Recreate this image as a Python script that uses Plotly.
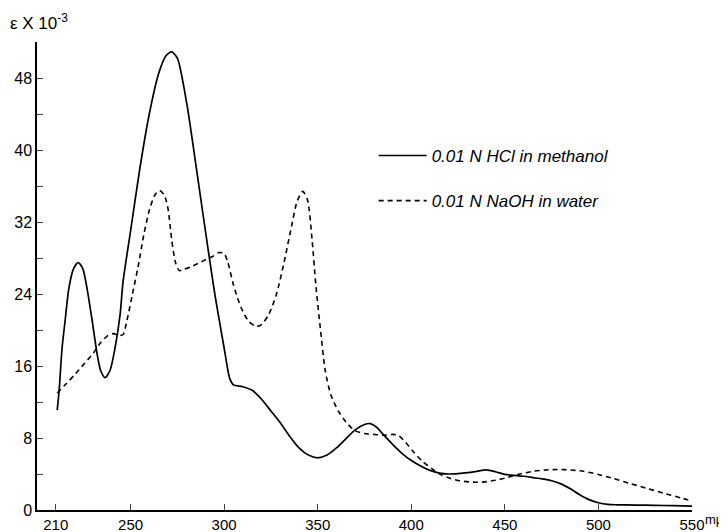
import plotly.graph_objects as go

# Wavelength (mμ) and ε×10^-3 values
hcl_wl = [210.8, 211.8, 213.4, 215, 217, 219.5, 222, 224.5, 227, 229.5, 232, 234, 236.4,
          239, 241.7, 244.4, 246, 250, 255, 260, 265, 269, 272, 275, 280, 285, 290, 295,
          300, 303, 305, 310, 315, 320, 325, 330, 335, 340, 345, 350, 355, 360, 365, 370,
          375, 378, 382, 385, 390, 395, 400, 405, 410, 415, 420, 425, 430, 435, 440, 445,
          450, 455, 460, 465, 470, 475, 480, 485, 490, 495, 500, 505, 510, 520, 530, 540, 550]
hcl_eps = [11.1, 13.2, 18.0, 21.0, 24.6, 26.8, 27.5, 26.8, 24.3, 21.0, 17.5, 15.5, 14.7,
           15.5, 18.0, 21.7, 25.4, 31.0, 38.0, 44.0, 48.5, 50.5, 50.9, 50.2, 45.2, 38.2, 31.0, 24.0,
           18.0, 14.6, 13.9, 13.7, 13.3, 12.3, 11.0, 9.7, 8.2, 6.9, 6.1, 5.8, 6.1, 6.9, 7.9, 8.9,
           9.5, 9.6, 9.1, 8.4, 7.3, 6.3, 5.5, 4.9, 4.4, 4.1, 4.0, 4.05, 4.15, 4.3, 4.45, 4.25,
           3.95, 3.85, 3.75, 3.6, 3.45, 3.25, 2.9, 2.35, 1.7, 1.15, 0.8, 0.62, 0.58, 0.55, 0.52, 0.48, 0.44]

naoh_wl = [210.8, 215, 220, 225, 230, 234, 238, 241, 243.5, 246, 248, 251, 254, 257, 260, 263,
           265.5, 268, 270, 272, 274, 276, 278, 282, 286, 290, 294, 297, 300, 302, 305, 309,
           313, 317, 320, 324, 328, 332, 336, 339, 342, 344.5, 347, 349, 351.5, 354, 357, 361,
           365, 370, 375, 380, 385, 390, 393, 397, 401, 406, 411, 416, 421, 426, 432, 438, 445,
           451, 458, 465, 472, 478, 485, 492, 500, 508, 516, 526, 536, 544, 550]
naoh_eps = [13.0, 13.9, 15.0, 16.2, 17.4, 18.6, 19.4, 19.6, 19.4, 19.5, 21.0, 24.0, 27.0, 30.5,
            33.3, 35.0, 35.5, 35.0, 33.5, 30.0, 27.5, 26.6, 26.7, 27.0, 27.4, 27.8, 28.2, 28.6,
            28.5, 27.5, 25.0, 22.5, 21.0, 20.4, 20.6, 21.8, 24.0, 27.5, 31.5, 34.3, 35.4, 34.5,
            30.0, 25.0, 20.0, 15.5, 12.8, 11.0, 9.8, 8.8, 8.5, 8.4, 8.3, 8.4, 8.3, 7.5, 6.5, 5.4,
            4.6, 3.9, 3.5, 3.25, 3.1, 3.1, 3.3, 3.6, 4.0, 4.3, 4.45, 4.5, 4.45, 4.3, 3.95, 3.5,
            3.0, 2.4, 1.8, 1.35, 1.0]

x_ticks = [210, 250, 300, 350, 400, 450, 500, 550]
y_ticks = list(range(0, 53, 4))
y_ticktext = [str(v) if v % 8 == 0 and v <= 48 else "" for v in y_ticks]

series_names = ["0.01 N HCl in methanol", "0.01 N NaOH in water"]

FONT = "Liberation Sans"

fig = go.Figure()
fig.add_trace(go.Scatter(
    x=hcl_wl, y=hcl_eps, mode="lines", name=series_names[0], legendgroup="a",
    line=dict(color="black", width=1.7, shape="spline", smoothing=0.7),
))
fig.add_trace(go.Scatter(
    x=naoh_wl, y=naoh_eps, mode="lines", name=series_names[1], legendgroup="b",
    line=dict(color="black", width=1.6, dash="5px,4px", shape="spline", smoothing=0.7),
))

# The page body keeps the browser's default 8px margin, so the figure is
# sized 8px smaller than the window in both directions.
fig.update_layout(
    width=719, height=524,
    margin=dict(l=29, r=35, t=34, b=22, autoexpand=False),
    paper_bgcolor="white", plot_bgcolor="white",
    font=dict(family=FONT, size=15, color="black"),
    showlegend=True,
    legend=dict(
        x=0.514, y=0.795, xanchor="left", yanchor="top", itemwidth=48,
        font=dict(family=FONT, size=17, color="black", style="italic"),
        bgcolor="rgba(0,0,0,0)", tracegroupgap=20, traceorder="grouped",
    ),
    xaxis=dict(
        range=[200, 550], tickvals=x_ticks, ticks="inside", ticklen=6,
        showline=True, linecolor="black", linewidth=1.5, showgrid=False,
        zeroline=False, tickfont=dict(size=15), automargin=False,
    ),
    yaxis=dict(
        range=[0, 52], tickvals=y_ticks, ticktext=y_ticktext, ticks="inside",
        ticklen=6, showline=True, linecolor="black", linewidth=1.5,
        showgrid=False, zeroline=False, tickfont=dict(size=16), automargin=False,
    ),
    annotations=[
        dict(text="ε X 10<sup>-3</sup>", xref="paper", yref="paper", x=-0.045, y=1.07,
             xanchor="left", yanchor="top", showarrow=False,
             font=dict(family=FONT, size=17)),
        dict(text="mμ", xref="paper", yref="paper", x=1.049, y=-0.02,
             xanchor="right", yanchor="middle", showarrow=False, borderpad=0,
             font=dict(family=FONT, size=13)),
    ],
)

fig.write_html("out.html")
